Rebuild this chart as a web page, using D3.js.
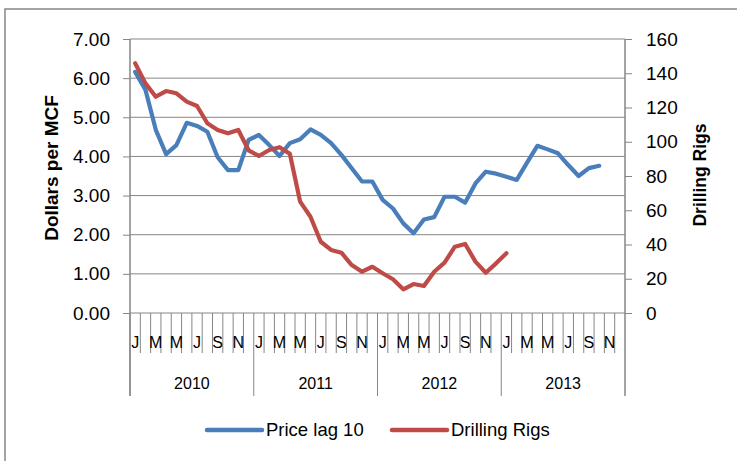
<!DOCTYPE html>
<html><head><meta charset="utf-8">
<script src="https://cdn.jsdelivr.net/npm/d3@7"></script>
<style>body{margin:0;background:#fff;} svg{display:block;font-family:"Liberation Sans",Arial,sans-serif;}</style>
</head><body><svg id="c" width="737" height="461"></svg>
<script>
const years = ["2010","2011","2012","2013"];
const monthLetters = ["J","F","M","A","M","J","J","A","S","O","N","D"];
const leftTicks = [0,1,2,3,4,5,6,7];
const rightTicks = [0,20,40,60,80,100,120,140,160];
const seriesNames = ["Price lag 10","Drilling Rigs"];
const seriesColors = ["#4A7EBB","#BE4B48"];
const priceLag10 = [6.16,5.70,4.68,4.06,4.29,4.86,4.78,4.63,3.98,3.65,3.65,4.42,
  4.55,4.29,4.01,4.34,4.44,4.69,4.55,4.34,4.04,3.70,3.36,3.36,
  2.89,2.67,2.29,2.04,2.39,2.45,2.97,2.97,2.82,3.31,3.61,3.56,
  3.48,3.40,3.84,4.27,4.18,4.08,3.78,3.50,3.70,3.76];
const drillingRigs = [145.8,134.1,126.3,129.6,128.3,123.4,120.9,110.8,106.9,104.9,106.9,95,
  91.7,95.2,96.8,93,65,56.2,41.6,36.8,35.2,28,24.1,27,
  23.2,19.7,13.8,16.9,15.8,24.1,29.4,38.7,40.3,30,23.5,29,
  34.9];

const svg = d3.select("#c");
const months = years.flatMap(y => monthLetters.map((m,i) => y + "-" + i));
const x = d3.scaleBand().domain(months).range([130,625]).padding(0);
const yL = d3.scaleLinear().domain([0,7]).range([313,39]);
const yR = d3.scaleLinear().domain([0,160]).range([313,39]);
const grey = "#868686";

// chart border (clipped by window at right/bottom)
svg.append("rect").attr("x",5).attr("y",9).attr("width",800).attr("height",500)
  .attr("fill","none").attr("stroke",grey).attr("stroke-width",1.5);

// gridlines
svg.append("g").selectAll("line").data(leftTicks).join("line")
  .attr("x1",130).attr("x2",625).attr("y1",d=>yL(d)).attr("y2",d=>yL(d))
  .attr("stroke",grey).attr("stroke-width",1);

// left axis
const gl = svg.append("g").attr("transform","translate(130,0)")
  .call(d3.axisLeft(yL).tickValues(leftTicks).tickFormat(d3.format(".2f")).tickSize(7).tickPadding(13));
gl.select(".domain").remove();
gl.selectAll(".tick line").attr("stroke",grey);
gl.selectAll("text").attr("font-size",19).attr("font-family","Liberation Sans, Arial, sans-serif").attr("fill","#000");

// right axis
const gr = svg.append("g").attr("transform","translate(625,0)")
  .call(d3.axisRight(yR).tickValues(rightTicks).tickSize(7).tickPadding(14));
gr.select(".domain").remove();
gr.selectAll(".tick line").attr("stroke",grey);
gr.selectAll("text").attr("font-size",19).attr("font-family","Liberation Sans, Arial, sans-serif").attr("fill","#000");

// vertical axis lines
svg.append("line").attr("x1",130).attr("x2",130).attr("y1",39).attr("y2",396).attr("stroke",grey).attr("stroke-width",1.5);
svg.append("line").attr("x1",625).attr("x2",625).attr("y1",39).attr("y2",396).attr("stroke",grey).attr("stroke-width",1.5);

// category axis: month separators, year separators
const gc = svg.append("g");
gc.selectAll("line.m").data(months).join("line").attr("class","m")
  .attr("x1",d=>x(d)).attr("x2",d=>x(d)).attr("y1",313)
  .attr("y2",(d,i)=> i%12===0 ? 396 : 353)
  .attr("stroke",grey).attr("stroke-width",1);
gc.selectAll("text.m").data(months.filter((d,i)=>i%2===0)).join("text").attr("class","m")
  .attr("x",d=>x(d)+x.bandwidth()/2).attr("y",347.5).attr("text-anchor","middle")
  .attr("font-size",16).text(d=>monthLetters[+d.split("-")[1]]);
gc.selectAll("text.y").data(years).join("text").attr("class","y")
  .attr("x",(d,i)=> (x(d+"-0") + x(d+"-11") + x.bandwidth())/2).attr("y",388.5)
  .attr("text-anchor","middle").attr("font-size",16).text(d=>d);

// axis titles
svg.append("text").attr("transform","translate(58,168) rotate(-90)").attr("text-anchor","middle")
  .attr("font-weight","bold").attr("font-size",19).text("Dollars per MCF");
svg.append("text").attr("transform","translate(706,175) rotate(-90)").attr("text-anchor","middle")
  .attr("font-weight","bold").attr("font-size",17.5).text("Drilling Rigs");

// lines
const lineL = d3.line().x((d,i)=>x(months[i])+x.bandwidth()/2).y(d=>yL(d));
const lineR = d3.line().x((d,i)=>x(months[i])+x.bandwidth()/2).y(d=>yR(d));
svg.append("path").datum(priceLag10).attr("d",lineL).attr("fill","none")
  .attr("stroke",seriesColors[0]).attr("stroke-width",4.2).attr("stroke-linejoin","round").attr("stroke-linecap","round");
svg.append("path").datum(drillingRigs).attr("d",lineR).attr("fill","none")
  .attr("stroke",seriesColors[1]).attr("stroke-width",4.2).attr("stroke-linejoin","round").attr("stroke-linecap","round");

// legend
const legX = [207,392];
const lg = svg.append("g").selectAll("g").data(seriesNames).join("g");
lg.append("line").attr("x1",(d,i)=>legX[i]).attr("x2",(d,i)=>legX[i]+55).attr("y1",430).attr("y2",430)
  .attr("stroke",(d,i)=>seriesColors[i]).attr("stroke-width",4.5).attr("stroke-linecap","round");
lg.append("text").attr("x",(d,i)=>legX[i]+59).attr("y",436).attr("font-size",18.5).text(d=>d);
</script></body></html>
